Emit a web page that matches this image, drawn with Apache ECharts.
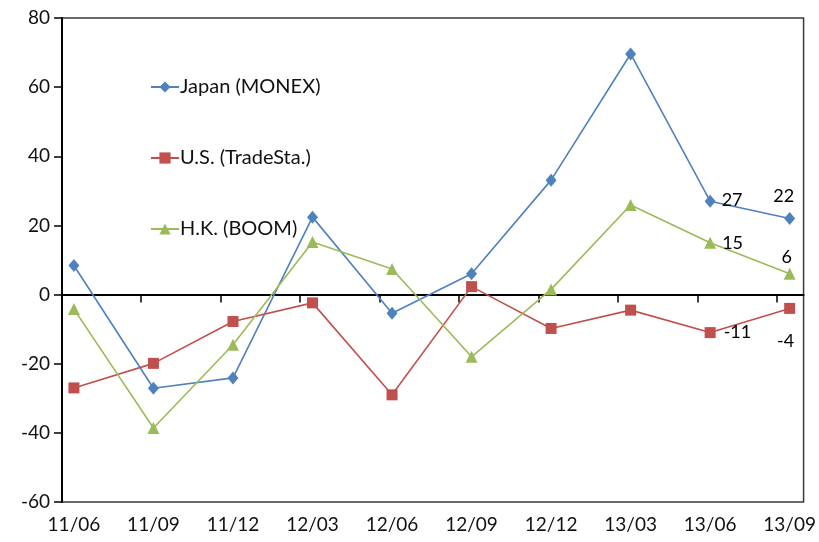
<!DOCTYPE html>
<html>
<head>
<meta charset="utf-8">
<script src="https://cdn.jsdelivr.net/npm/echarts@6/dist/echarts.min.js"></script>
<style>
  html, body { margin: 0; padding: 0; background: #fff; }
  #chart { width: 819px; height: 542px; }
</style>
</head>
<body>
<div id="chart"></div>
<script>
// Quarter labels along the bottom
const categories = ['11/06', '11/09', '11/12', '12/03', '12/06', '12/09', '12/12', '13/03', '13/06', '13/09'];

// Series values per quarter
const japan = [8.4, -27.1, -24.1, 22.4, -5.4, 6.0, 33.1, 69.6, 27, 22];
const us    = [-27, -19.9, -7.8, -2.4, -29, 2.3, -9.8, -4.5, -11, -4];
const hk    = [-4.2, -38.6, -14.5, 15.2, 7.4, -18, 1.5, 25.9, 15, 6];

const seriesNames = ['Japan (MONEX)', 'U.S. (TradeSta.)', 'H.K. (BOOM)'];

// Y axis range and step
const yMin = -60, yMax = 80, yStep = 20;

const FONT = 'Lato, "Open Sans", sans-serif';

// Points sit slightly after each period boundary tick
const tickOffset = -0.16;
const xIndex = categories.map((_, i) => i);
const tickPositions = xIndex.map(i => i + tickOffset);

function buildData(values, lastPositions) {
  return values.map((v, i) => {
    const item = { value: [i, v] };
    const k = i - (values.length - lastPositions.length);
    if (k >= 0) {
      const pos = lastPositions[k];
      item.label = {
        show: true,
        position: pos.position,
        distance: pos.distance,
        offset: pos.offset || [0, 0],
        formatter: p => String(p.value[1]),
        color: '#000',
        fontFamily: FONT,
        fontSize: 18
      };
    }
    return item;
  });
}

const chart = echarts.init(document.getElementById('chart'), null, { renderer: 'canvas' });

const option = {
  animation: false,
  backgroundColor: '#fff',
  grid: {
    left: 62, right: 14, top: 18, bottom: 40,
    show: true,
    borderColor: '#3a3a3a',
    borderWidth: 1.5,
    containLabel: false
  },
  legend: {
    orient: 'vertical',
    left: 145,
    top: 72,
    itemWidth: 28,
    itemHeight: 14,
    itemGap: 51,
    textStyle: { fontFamily: FONT, fontSize: 20, color: '#111', padding: [0, 0, 0, -4] },
    data: seriesNames
  },
  xAxis: [
    {
      type: 'value',
      min: -0.15,
      max: 9.175,
      axisLine: { onZero: true, lineStyle: { color: '#000', width: 2 } },
      axisTick: { show: true, customValues: tickPositions, length: 8, inside: false, lineStyle: { color: '#000', width: 1.5 } },
      axisLabel: { show: false },
      splitLine: { show: false }
    },
    {
      type: 'value',
      position: 'bottom',
      min: -0.15,
      max: 9.175,
      axisLine: { show: false, onZero: false },
      axisTick: { show: false },
      axisLabel: {
        show: true,
        customValues: xIndex,
        formatter: v => categories[Math.round(v)],
        fontFamily: FONT,
        fontSize: 19,
        color: '#111',
        margin: 13
      },
      splitLine: { show: false }
    }
  ],
  yAxis: {
    type: 'value',
    min: yMin,
    max: yMax,
    interval: yStep,
    axisLine: { show: true, onZero: false, lineStyle: { color: '#000', width: 2 } },
    axisTick: { show: true, length: 8, inside: false, lineStyle: { color: '#000', width: 1.5 } },
    axisLabel: { fontFamily: FONT, fontSize: 19, color: '#111', margin: 12 },
    splitLine: { show: false }
  },
  series: [
    {
      name: seriesNames[0],
      type: 'line',
      xAxisIndex: 0,
      data: buildData(japan, [
        { position: 'right', distance: 6, offset: [0, -1] },
        { position: 'top', distance: 7, offset: [-6, 0] }
      ]),
      symbol: 'diamond',
      symbolSize: [11, 13],
      itemStyle: { color: '#4F81BD' },
      lineStyle: { color: '#4F81BD', width: 1.6 },
      z: 3
    },
    {
      name: seriesNames[1],
      type: 'line',
      xAxisIndex: 0,
      data: buildData(us, [
        { position: 'right', distance: 8, offset: [0, 0] },
        { position: 'bottom', distance: 18, offset: [-4, 0] }
      ]),
      symbol: 'rect',
      symbolSize: 11,
      itemStyle: { color: '#C0504D' },
      lineStyle: { color: '#C0504D', width: 1.6 },
      z: 3
    },
    {
      name: seriesNames[2],
      type: 'line',
      xAxisIndex: 0,
      data: buildData(hk, [
        { position: 'right', distance: 6, offset: [0, 0] },
        { position: 'top', distance: 2, offset: [-3, 0] }
      ]),
      symbol: 'triangle',
      symbolSize: 12,
      itemStyle: { color: '#9BBB59' },
      lineStyle: { color: '#9BBB59', width: 1.6 },
      z: 3
    }
  ]
};

chart.setOption(option);
</script>
</body>
</html>
